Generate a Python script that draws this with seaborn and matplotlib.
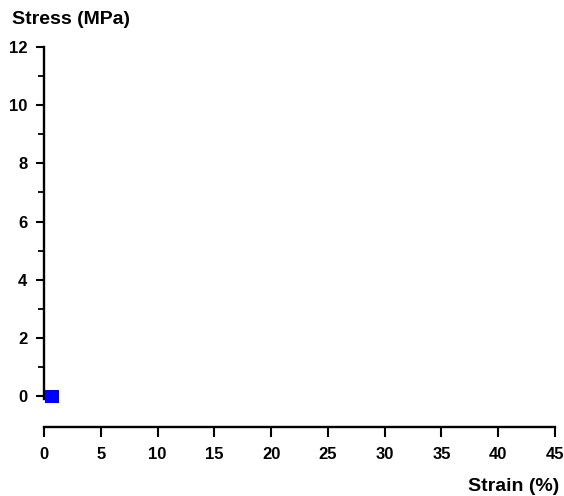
import matplotlib
matplotlib.use("Agg")
import matplotlib.pyplot as plt
import seaborn as sns
import pandas as pd
from matplotlib.ticker import FixedLocator

strain = [0.7]
stress = [0.0]
x_ticks = [0, 5, 10, 15, 20, 25, 30, 35, 40, 45]
y_ticks = [0, 2, 4, 6, 8, 10, 12]
y_minor = [1, 3, 5, 7, 9, 11]

sns.set_style("ticks")
plt.rcParams['font.family'] = ['Liberation Sans', 'DejaVu Sans']
plt.rcParams['font.weight'] = 'bold'

df = pd.DataFrame({"strain": strain, "stress": stress})

fig = plt.figure(figsize=(5.64, 4.96), dpi=100)
ax = fig.add_axes([44/564, 1-431/496, 511/564, (431-47)/496])

sns.scatterplot(data=df, x="strain", y="stress", marker="s", s=90,
                color="#0000ff", edgecolor="none", ax=ax, clip_on=False, zorder=5)

ax.set_xlim(0, 45)
ax.set_ylim(-1.2, 12)
ax.set_xticks(x_ticks)
ax.set_yticks(y_ticks)
ax.yaxis.set_minor_locator(FixedLocator(y_minor))
ax.set_xlabel("")
ax.set_ylabel("")

for s in ["top", "right"]:
    ax.spines[s].set_visible(False)
ax.spines["left"].set_bounds(-0.1, 12)
ax.spines["bottom"].set_position(("data", -1.05))
for s in ["left", "bottom"]:
    ax.spines[s].set_linewidth(1.7)
    ax.spines[s].set_color("black")

ax.tick_params(axis="y", which="major", direction="out", length=6, width=1.5,
               labelsize=12, pad=6, color="black", labelcolor="black")
ax.tick_params(axis="y", which="minor", direction="out", length=4, width=1.3,
               color="black")
ax.tick_params(axis="x", which="major", direction="out", length=7, width=1.5,
               labelsize=12, pad=8, color="black", labelcolor="black")
for lab in ax.get_xticklabels() + ax.get_yticklabels():
    lab.set_fontweight("bold")

fig.text(12/564, 1-24/496, "Stress (MPa)", fontsize=14, fontweight="bold",
         ha="left", va="baseline", color="black")
fig.text(559/564, 1-491/496, "Strain (%)", fontsize=14, fontweight="bold",
         ha="right", va="baseline", color="black")

fig.savefig("out.png", dpi=100, facecolor="white")
